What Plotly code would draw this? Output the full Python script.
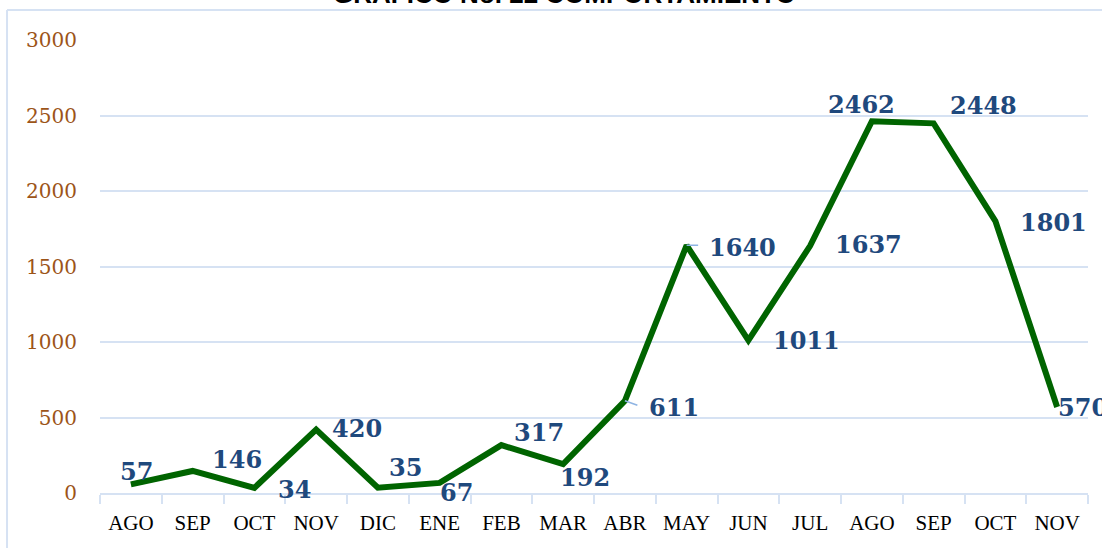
import plotly.graph_objects as go

# Monthly values, August through the following November
months = ["AGO", "SEP", "OCT", "NOV", "DIC", "ENE", "FEB", "MAR",
          "ABR", "MAY", "JUN", "JUL", "AGO ", "SEP ", "OCT ", "NOV "]
values = [57, 146, 34, 420, 35, 67, 317, 192,
          611, 1640, 1011, 1637, 2462, 2448, 1801, 570]
month_text = [m.strip() for m in months]

# Pixel offsets of each value label from its point (right, down)
label_dx = [6, 44, 40, 41, 28, 17, 38, 22, 49, 56, 58, 58, -10, 50, 58, 26]
label_dy = [-13, -11, 2, -1, -20, 10, -13, 13, 7, 2, 0, -1, -17, -18, 1, 1]

y_ticks = [0, 500, 1000, 1500, 2000, 2500, 3000]

GRID = "#D6E2F3"
LABEL_BLUE = "#1F497D"

fig = go.Figure()
fig.add_trace(go.Scatter(
    x=months, y=values, mode="lines",
    line=dict(color="#006400", width=6),
    hoverinfo="skip", cliponaxis=False,
))

annotations = []
for m, v, dx, dy in zip(months, values, label_dx, label_dy):
    annotations.append(dict(
        x=m, y=v, xref="x", yref="y", text=f"<b>{v}</b>", showarrow=False,
        xshift=dx, yshift=-dy,
        font=dict(family="DejaVu Serif", size=24, color=LABEL_BLUE),
    ))

# short leader lines for two of the labels
for m, v, ax, ay in [("ABR", 611, 14, 5), ("MAY", 1640, 13, 0)]:
    annotations.append(dict(
        x=m, y=v, xref="x", yref="y", text="", showarrow=True,
        arrowhead=0, arrowwidth=1.5, arrowcolor="#8EB4E3",
        ax=ax, ay=ay, standoff=0,
    ))

annotations.append(dict(
    x=0.4706, y=1.064, xref="paper", yref="paper", yanchor="bottom",
    text="<b>GRÁFICO No. 22 COMPORTAMIENTO</b>", showarrow=False,
    font=dict(family="Liberation Sans", size=26, color="#000000"),
))

fig.update_layout(
    width=1102, height=548,
    margin=dict(l=100, r=14, t=40, b=55),
    paper_bgcolor="#FFFFFF", plot_bgcolor="#FFFFFF",
    showlegend=False,
    annotations=annotations,
    shapes=[
        dict(type="line", xref="paper", yref="paper",
             x0=-0.0941, x1=1.02, y0=1.0662, y1=1.0662,
             line=dict(color=GRID, width=2)),
        dict(type="line", xref="paper", yref="paper",
             x0=-0.0941, x1=-0.0941, y0=1.0662, y1=-0.15,
             line=dict(color=GRID, width=2)),
    ],
    xaxis=dict(
        type="category", tickmode="array", tickvals=months, ticktext=month_text,
        showgrid=False, showline=True, linecolor=GRID, linewidth=2,
        ticks="outside", tickson="boundaries", ticklen=9, tickcolor=GRID, tickwidth=2,
        ticklabelstandoff=10,
        tickfont=dict(family="Liberation Serif", size=21, color="#000000"),
        range=[-0.5, 15.5],
    ),
    yaxis=dict(
        range=[0, 3000], tickvals=y_ticks,
        showgrid=True, gridcolor=GRID, gridwidth=2,
        zeroline=False, showline=False,
        ticks="", ticklabelstandoff=22,
        tickfont=dict(family="DejaVu Serif", size=20, color="#9C5418"),
    ),
)

fig.write_html("out.html")
